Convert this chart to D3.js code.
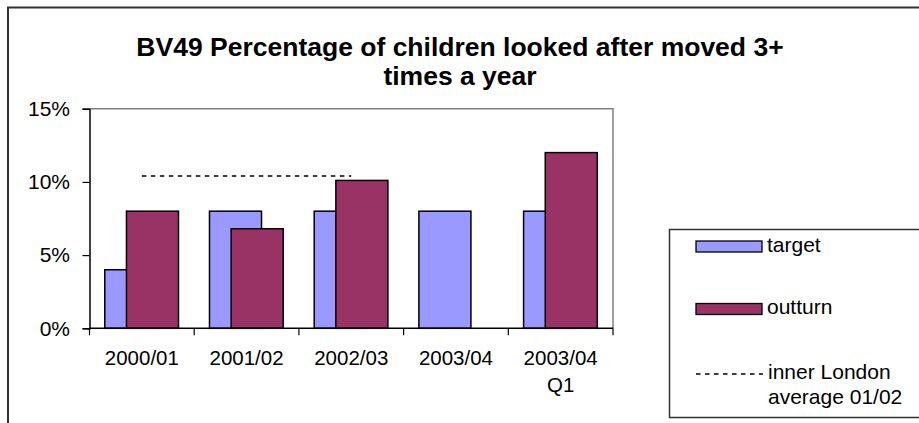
<!DOCTYPE html>
<html>
<head>
<meta charset="utf-8">
<script src="https://cdn.jsdelivr.net/npm/d3@7"></script>
<style>
  body { margin: 0; background: #fff; }
  svg { display: block; font-family: "Liberation Sans", Arial, sans-serif; }
</style>
</head>
<body>
<div id="chart"></div>
<script>
// Chart data
const categories = ["2000/01", "2001/02", "2002/03", "2003/04", "2003/04\nQ1"];
const target = [4, 8, 8, 8, 8];
const outturn = [8, 6.8, 10.1, null, 12];
const londonAvg = [10.4, 10.4, 10.4, null, null];
const yTicks = [0, 5, 10, 15];
const legendLabels = ["target", "outturn", "inner London\naverage 01/02"];

const width = 919, height = 423;
const plot = { left: 89.5, right: 613, top: 108.7, bottom: 328.3 };

const svg = d3.select("#chart").append("svg")
    .attr("width", width)
    .attr("height", height);

// Outer chart border (runs off right and bottom)
svg.append("rect")
    .attr("x", 8).attr("y", 7.5)
    .attr("width", 940).attr("height", 450)
    .attr("fill", "#fff")
    .attr("stroke", "#333")
    .attr("stroke-width", 2);

// Title
svg.append("text")
    .attr("x", 460)
    .attr("y", 56)
    .attr("text-anchor", "middle")
    .style("font-size", "26.5px")
    .style("font-weight", "bold")
    .selectAll("tspan")
    .data(["BV49 Percentage of children looked after moved 3+", "times a year"])
    .enter()
    .append("tspan")
    .attr("x", 460)
    .attr("dy", (d, i) => i === 0 ? 0 : 28.5)
    .text(d => d);

const x = d3.scaleBand()
    .domain(categories)
    .range([plot.left, plot.right])
    .padding(0);

const y = d3.scaleLinear()
    .domain([0, 15])
    .range([plot.bottom, plot.top]);

const bw = x.bandwidth();
const barW = bw * 0.497;
const barOff = bw * 0.146;
const barStep = bw * 0.207;

// Plot area border (gray top/right)
svg.append("path")
    .attr("d", `M${plot.left},${plot.top}H${plot.right}V${plot.bottom}`)
    .attr("fill", "none")
    .attr("stroke", "#808080")
    .attr("stroke-width", 1.5);

// Bars
svg.selectAll(".target")
    .data(categories.map((c, i) => ({ c, v: target[i] })).filter(d => d.v != null))
    .enter()
    .append("rect")
    .attr("class", "target")
    .attr("x", d => x(d.c) + barOff)
    .attr("y", d => y(d.v))
    .attr("width", barW)
    .attr("height", d => y(0) - y(d.v))
    .attr("fill", "#9999ff")
    .attr("stroke", "#000")
    .attr("stroke-width", 1.5);

svg.selectAll(".outturn")
    .data(categories.map((c, i) => ({ c, v: outturn[i] })).filter(d => d.v != null))
    .enter()
    .append("rect")
    .attr("class", "outturn")
    .attr("x", d => x(d.c) + barOff + barStep)
    .attr("y", d => y(d.v))
    .attr("width", barW)
    .attr("height", d => y(0) - y(d.v))
    .attr("fill", "#993366")
    .attr("stroke", "#000")
    .attr("stroke-width", 1.5);

// Inner London average dashed line
const line = d3.line()
    .defined(d => d.v != null)
    .x(d => x(d.c) + bw / 2)
    .y(d => y(d.v));

svg.append("path")
    .datum(categories.map((c, i) => ({ c, v: londonAvg[i] })))
    .attr("d", line)
    .attr("fill", "none")
    .attr("stroke", "#000")
    .attr("stroke-width", 1.5)
    .attr("stroke-dasharray", "4.5,4.5");

// Y axis
const yAxis = svg.append("g")
    .attr("transform", `translate(${plot.left},0)`)
    .call(d3.axisLeft(y).tickValues(yTicks).tickFormat(d => d + "%").tickSizeOuter(0).tickSize(7).tickPadding(12.5));
yAxis.select(".domain").attr("stroke", "#000").attr("stroke-width", 1.5);
yAxis.selectAll(".tick line").attr("stroke", "#000").attr("stroke-width", 1.2);
yAxis.selectAll("text")
    .style("font-size", "21px")
    .style("font-family", "'Liberation Sans', Arial, sans-serif")
    .attr("fill", "#000");

// X axis: baseline + ticks between categories
svg.append("line")
    .attr("x1", plot.left).attr("x2", plot.right)
    .attr("y1", plot.bottom).attr("y2", plot.bottom)
    .attr("stroke", "#000")
    .attr("stroke-width", 1.5);

svg.selectAll(".xtick")
    .data(categories.slice(1).map(c => x(c)).concat([plot.right, plot.left]))
    .enter()
    .append("line")
    .attr("x1", d => d).attr("x2", d => d)
    .attr("y1", plot.bottom).attr("y2", plot.bottom + 7)
    .attr("stroke", "#000")
    .attr("stroke-width", 1.2);

const xLabels = svg.selectAll(".xlabel")
    .data(categories)
    .enter()
    .append("text")
    .attr("class", "xlabel")
    .attr("text-anchor", "middle")
    .style("font-size", "20.5px")
    .attr("y", 364.5);

xLabels.selectAll("tspan")
    .data(d => d.split("\n").map(t => ({ t, c: d })))
    .enter()
    .append("tspan")
    .attr("x", d => x(d.c) + bw / 2)
    .attr("dy", (d, i) => i === 0 ? 0 : 27)
    .text(d => d.t);

// Legend
const legend = svg.append("g");
legend.append("rect")
    .attr("x", 669.5).attr("y", 229.5)
    .attr("width", 300).attr("height", 188)
    .attr("fill", "#fff")
    .attr("stroke", "#333")
    .attr("stroke-width", 1.5);

const legendRows = [
    { label: legendLabels[0], color: "#9999ff", y: 246.5 },
    { label: legendLabels[1], color: "#993366", y: 309 }
];

legend.selectAll(".lswatch")
    .data(legendRows)
    .enter()
    .append("rect")
    .attr("x", 696).attr("y", d => d.y - 5.5)
    .attr("width", 66).attr("height", 11)
    .attr("fill", d => d.color)
    .attr("stroke", "#000")
    .attr("stroke-width", 1.3);

legend.selectAll(".ltext")
    .data(legendRows)
    .enter()
    .append("text")
    .attr("x", 767).attr("y", d => d.y + 5)
    .style("font-size", "21px")
    .text(d => d.label);

legend.append("line")
    .attr("x1", 696).attr("x2", 763)
    .attr("y1", 374).attr("y2", 374)
    .attr("stroke", "#000")
    .attr("stroke-width", 1.5)
    .attr("stroke-dasharray", "4.5,4.5");

legend.append("text")
    .attr("y", 378.5)
    .style("font-size", "21px")
    .selectAll("tspan")
    .data(legendLabels[2].split("\n"))
    .enter()
    .append("tspan")
    .attr("x", 768)
    .attr("dy", (d, i) => i === 0 ? 0 : 25)
    .text(d => d);
</script>
</body>
</html>
